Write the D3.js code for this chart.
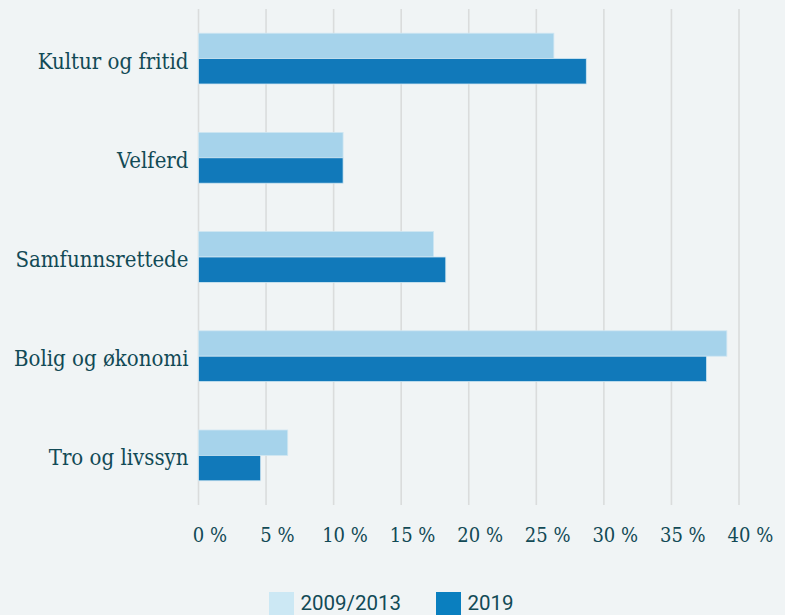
<!DOCTYPE html>
<html>
<head>
<meta charset="utf-8">
<script src="https://cdn.jsdelivr.net/npm/d3@7"></script>
<style>
  body { margin: 0; background: #f0f4f5; }
  svg { display: block; }
</style>
</head>
<body>
<div id="chart"></div>
<script>
var width = 785;
var height = 615;

// data
var categories = [ "Kultur og fritid", "Velferd", "Samfunnsrettede", "Bolig og økonomi", "Tro og livssyn" ];
var series = [ "2009/2013", "2019" ];
var values2009 = [ 26.3, 10.7, 17.4, 39.1, 6.6 ];
var values2019 = [ 28.7, 10.7, 18.3, 37.6, 4.6 ];
var ticks = [ 0, 5, 10, 15, 20, 25, 30, 35, 40 ];

var barColors = [ "#a6d3eb", "#1179ba" ];
var legendColors = [ "#cce8f4", "#0a7fbf" ];
var textColor = "#124a56";
var serif = "'DejaVu Serif Condensed', 'DejaVu Serif', serif";

var svg = d3.select( "#chart" )
    .append( "svg" )
    .attr( "width", width )
    .attr( "height", height );

svg.append( "rect" )
    .attr( "width", width )
    .attr( "height", height )
    .attr( "fill", "#f0f4f5" );

var x = d3.scaleLinear()
    .domain( [0, 40] )
    .range( [198.5, 739] );

var y0 = d3.scaleBand()
    .domain( categories )
    .range( [9, 505] );

var bw = y0.bandwidth();
var y1 = d3.scaleBand()
    .domain( series )
    .range( [bw/2 - 25.4, bw/2 + 25.4] );

// grid
svg.append( "g" )
    .selectAll( "line" )
    .data( ticks )
    .enter()
    .append( "line" )
    .attr( "x1", d => x(d) )
    .attr( "x2", d => x(d) )
    .attr( "y1", 9 )
    .attr( "y2", 505 )
    .attr( "stroke", "#dadcdc" )
    .attr( "stroke-width", 1.6 );

// bars
var rows = categories.map( (c, i) => ({ cat: c, vals: [ values2009[i], values2019[i] ] }) );

var groups = svg.append( "g" )
    .selectAll( "g" )
    .data( rows )
    .enter()
    .append( "g" )
    .attr( "transform", d => "translate(0," + y0(d.cat) + ")" );

groups.selectAll( "rect" )
    .data( d => d.vals.map( (v, j) => ({ s: series[j], v: v, j: j }) ) )
    .enter()
    .append( "rect" )
    .attr( "x", x(0) )
    .attr( "y", d => y1(d.s) )
    .attr( "width", d => x(d.v) - x(0) )
    .attr( "height", y1.bandwidth() )
    .attr( "fill", d => barColors[d.j] )
    .attr( "stroke", "#cfe6f2" )
    .attr( "stroke-width", 0.8 );

// category labels
svg.append( "g" )
    .selectAll( "text" )
    .data( categories )
    .enter()
    .append( "text" )
    .attr( "x", 188.5 )
    .attr( "y", d => y0(d) + bw/2 + 10 )
    .attr( "text-anchor", "end" )
    .attr( "fill", textColor )
    .style( "font-family", serif )
    .style( "font-size", "22px" )
    .text( d => d );

// x axis labels: number centred on the grid line, " %" after it
var tickText = svg.append( "g" )
    .selectAll( "text" )
    .data( ticks )
    .enter()
    .append( "text" )
    .attr( "y", 542.3 )
    .attr( "fill", textColor )
    .style( "font-family", serif )
    .style( "font-size", "20px" );

tickText.append( "tspan" )
    .attr( "class", "num" )
    .text( d => d );

tickText.append( "tspan" )
    .text( " %" );

tickText.attr( "x", function(d) {
    var w = d3.select( this ).select( ".num" ).node().getComputedTextLength();
    return x(d) - w/2;
});

// legend
var legendX = [ 269, 436 ];
var legend = svg.append( "g" )
    .selectAll( "g" )
    .data( series )
    .enter()
    .append( "g" )
    .attr( "transform", (d, i) => "translate(" + legendX[i] + ",592)" );

legend.append( "rect" )
    .attr( "width", 25 )
    .attr( "height", 23 )
    .attr( "fill", (d, i) => legendColors[i] );

legend.append( "text" )
    .attr( "x", 31.5 )
    .attr( "y", 18 )
    .attr( "fill", textColor )
    .style( "font-family", "Roboto, sans-serif" )
    .style( "font-size", "20.5px" )
    .text( d => d );
</script>
</body>
</html>
